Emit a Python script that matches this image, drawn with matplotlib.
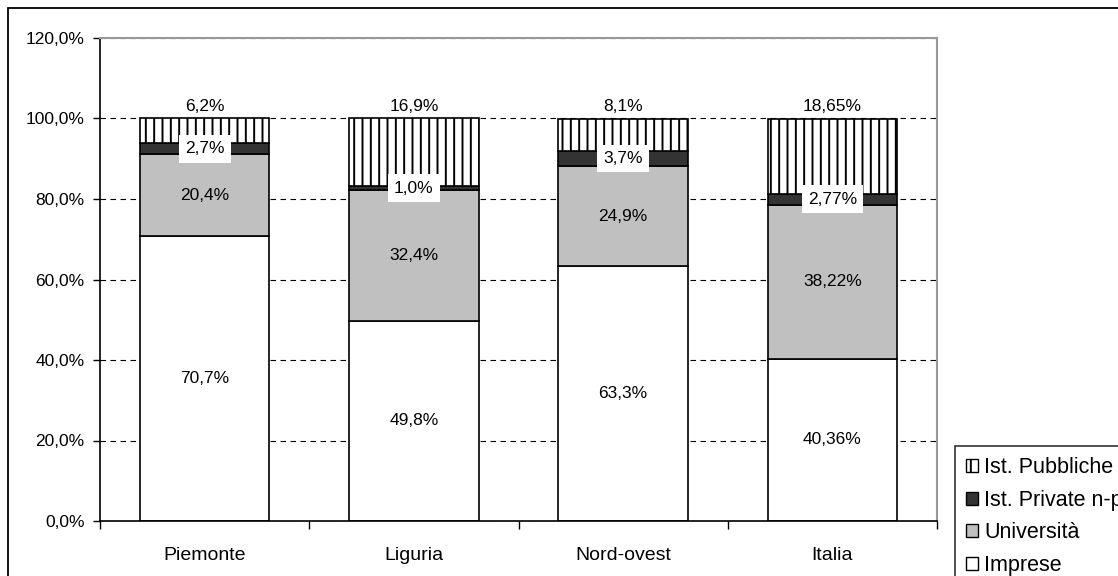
import matplotlib
matplotlib.use("Agg")
import matplotlib.pyplot as plt
from matplotlib.patches import Rectangle, Patch

plt.rcParams["font.family"] = ["Liberation Sans", "DejaVu Sans"]
plt.rcParams["hatch.linewidth"] = 1.4

# quota della spesa R&S per settore esecutore
regioni = ["Piemonte", "Liguria", "Nord-ovest", "Italia"]
decimali = [1, 1, 1, 2]
imprese = [70.7, 49.8, 63.3, 40.36]
universita = [20.4, 32.4, 24.9, 38.22]
private_np = [2.7, 1.0, 3.7, 2.77]
pubbliche = [6.2, 16.9, 8.1, 18.65]

serie = ["Imprese", "Università", "Ist. Private n-profit", "Ist. Pubbliche"]
y_ticks = [0, 20, 40, 60, 80, 100, 120]

FS = 12.5
FS_CAT = 14
FS_LEG = 15.5


def pct(v, d):
    return f"{v:.{d}f}%".replace(".", ",")


fig = plt.figure(figsize=(11.18, 5.76), dpi=100)
ax = fig.add_axes([100 / 1118, 55 / 576, 837 / 1118, 483 / 576])

x = list(range(len(regioni)))
w = 0.62
ec = "black"
lw = 1.2

ax.bar(x, imprese, w, color="white", edgecolor=ec, linewidth=lw, zorder=2)
base2 = imprese
ax.bar(x, universita, w, bottom=base2, color="#c0c0c0", edgecolor=ec,
       linewidth=lw, zorder=2)
base3 = [a + b for a, b in zip(base2, universita)]
ax.bar(x, private_np, w, bottom=base3, color="#333333", edgecolor=ec,
       linewidth=lw, zorder=2)
base4 = [a + b for a, b in zip(base3, private_np)]
ax.bar(x, pubbliche, w, bottom=base4, color="white", edgecolor=ec,
       linewidth=lw, hatch="||", zorder=2)

# etichette
for i in x:
    d = decimali[i]
    ax.text(i, imprese[i] / 2, pct(imprese[i], d), ha="center", va="center",
            fontsize=FS, zorder=4)
    ax.text(i, base2[i] + universita[i] / 2, pct(universita[i], d),
            ha="center", va="center", fontsize=FS, zorder=4)
    ax.text(i, base3[i] + private_np[i] / 2, pct(private_np[i], d),
            ha="center", va="center", fontsize=FS, zorder=4,
            bbox=dict(facecolor="white", edgecolor="none", pad=4.5))
    ax.annotate(pct(pubbliche[i], d), (i, base4[i] + pubbliche[i]),
                xytext=(0, 3), textcoords="offset points", ha="center",
                va="bottom", fontsize=FS, zorder=4,
                bbox=dict(facecolor="white", edgecolor="none", pad=1))

ax.set_xlim(-0.5, 3.5)
ax.set_ylim(0, 120)
ax.set_yticks(y_ticks)
ax.set_yticklabels([f"{t:.1f}%".replace(".", ",") for t in y_ticks],
                   fontsize=FS)
ax.yaxis.grid(True, color="black", linewidth=0.8, linestyle=(0, (5, 4)),
              zorder=1)
ax.set_axisbelow(True)

ax.set_xticks(x)
ax.set_xticklabels(regioni, fontsize=FS_CAT)
ax.tick_params(axis="x", length=0, pad=19)
ax.set_xticks([-0.5, 0.5, 1.5, 2.5, 3.5], minor=True)
ax.tick_params(axis="x", which="minor", length=6, width=1, color="black")
ax.tick_params(axis="y", length=5, width=1, pad=6)

for s in ["left", "bottom"]:
    ax.spines[s].set_color("black")
    ax.spines[s].set_linewidth(1.2)
for s in ["top", "right"]:
    ax.spines[s].set_color("#999999")
    ax.spines[s].set_linewidth(1.5)

# cornice esterna
fig.patches.append(Rectangle((8 / 1118, -0.05), 1.1, 1 - 8 / 576 + 0.05,
                             transform=fig.transFigure, fill=False,
                             edgecolor="black", linewidth=1.3))

handles = [
    Patch(facecolor="white", edgecolor="black", hatch="||", label=serie[3]),
    Patch(facecolor="#333333", edgecolor="black", label=serie[2]),
    Patch(facecolor="#c0c0c0", edgecolor="black", label=serie[1]),
    Patch(facecolor="white", edgecolor="black", label=serie[0]),
]
leg = fig.legend(handles=handles, loc="upper left",
                 bbox_to_anchor=(955 / 1118, 1 - 446 / 576),
                 fontsize=FS_LEG, frameon=True, fancybox=False,
                 handlelength=0.55, handleheight=0.55, handletextpad=0.3,
                 labelspacing=0.54, borderpad=0.52, borderaxespad=0)
leg.get_frame().set_edgecolor("black")
leg.get_frame().set_linewidth(1.2)

fig.savefig("out.png", dpi=100)
